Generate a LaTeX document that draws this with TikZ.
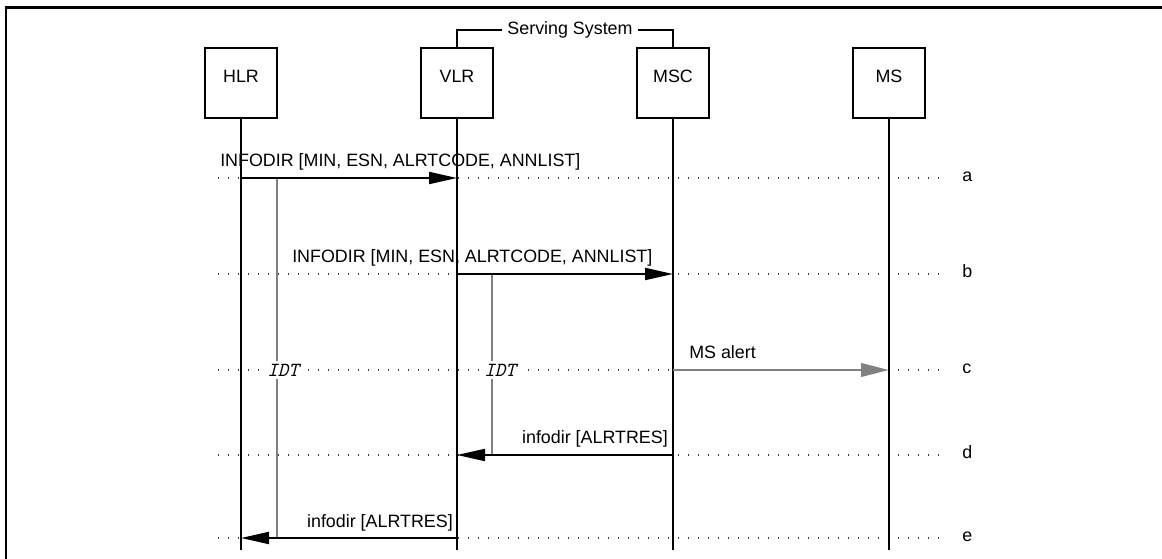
\documentclass[tikz,border=0pt]{standalone}
\usepackage{fontspec}
\setmainfont{Liberation Sans}
\usetikzlibrary{arrows.meta, positioning, calc}

\begin{document}
\begin{tikzpicture}[x=0.75pt, y=-0.75pt,
  ent/.style={draw, line width=1.4pt, minimum width=54pt, minimum height=52.5pt, inner sep=0pt,
              font=\fontsize{13.4}{16}\selectfont, text height=9pt, text depth=9pt},
  life/.style={line width=1.4pt},
  dots/.style={black!75, line width=0.8pt, dash pattern=on 0.8pt off 6.7pt},
  msg/.style={line width=1.5pt, -{Triangle[length=21pt, width=9pt]}},
  alert/.style={gray, line width=2.2pt, -{Triangle[length=21pt, width=10pt]}},
  timer/.style={gray, line width=1.4pt},
  lbl/.style={font=\fontsize{13.4}{16}\selectfont, inner sep=0pt},
  rowlbl/.style={font=\fontsize{13.4}{16}\selectfont, inner sep=0pt, anchor=mid west},
  idt/.style={font=\fontsize{15}{17}\ttfamily\itshape, fill=white, inner sep=2.5pt}
]
  \useasboundingbox (0,0) rectangle (1162,559);
  \draw[line width=1.6pt] (6,570) |- (1170,7.5);

  % ----- entities -----
  \node[ent] (hlr) at (241,83) {HLR};
  \node[ent] (vlr) at (457,83) {VLR};
  \node[ent] (msc) at (673,83) {MSC};
  \node[ent] (ms)  at (889,83) {MS};

  % ----- serving system bracket -----
  \node[lbl, inner xsep=3.8pt] (ss) at (570,30) {Serving System};
  \draw[line width=1pt] (vlr.north) |- (ss.west);
  \draw[line width=1pt] (ss.east) -| (msc.north);

  % ----- rows -----
  \coordinate (ra) at (0,178);
  \coordinate (rb) at (0,274);
  \coordinate (rc) at (0,370);
  \coordinate (rd) at (0,455);
  \coordinate (re) at (0,538);
  \coordinate (bot) at (0,550);
  \coordinate (dl) at (218,0);
  \coordinate (dr) at (946,0);
  \coordinate (lx) at (962,0);

  \foreach \r/\t in {ra/a, rb/b, rc/c, rd/d, re/e} {
    \draw[dots] (dl |- \r) -- (dr |- \r);
    \node[rowlbl] (l\t) at (lx |- \r) {\t};
  }

  % ----- lifelines -----
  \foreach \e in {hlr, vlr, msc, ms}
    \draw[life] (\e.south) -- (\e |- bot);

  % ----- timers -----
  \draw[timer] ($(hlr |- ra)+(36,0)$) -- ($(hlr |- re)+(36,0)$);
  \draw[timer] ($(vlr |- rb)+(35,0)$) -- ($(vlr |- rd)+(35,0)$);
  \node[idt] (idt1) at ($(hlr |- rc)+(42,0)$) {IDT};
  \node[idt] (idt2) at ($(vlr |- rc)+(43,0)$) {IDT};

  % ----- messages -----
  \draw[msg] (hlr |- ra) -- (vlr |- ra);
  \draw[msg] (vlr |- rb) -- (msc |- rb);
  \draw[alert] (msc |- rc) -- (ms |- rc);
  \draw[msg] (msc |- rd) -- (vlr |- rd);
  \draw[msg] (vlr |- re) -- (hlr |- re);

  \node[lbl, anchor=base west] (ta) at (220,167) {INFODIR [MIN, ESN, ALRTCODE, ANNLIST]};
  \node[lbl, anchor=base west] (tb) at (292,263) {INFODIR [MIN, ESN, ALRTCODE, ANNLIST]};
  \node[lbl, anchor=base west] (tc) at (689,358) {MS alert};
  \node[lbl, anchor=base east] (td) at (668,443) {infodir [ALRTRES]};
  \node[lbl, anchor=base east] (te) at (453,527) {infodir [ALRTRES]};
\end{tikzpicture}
\end{document}
